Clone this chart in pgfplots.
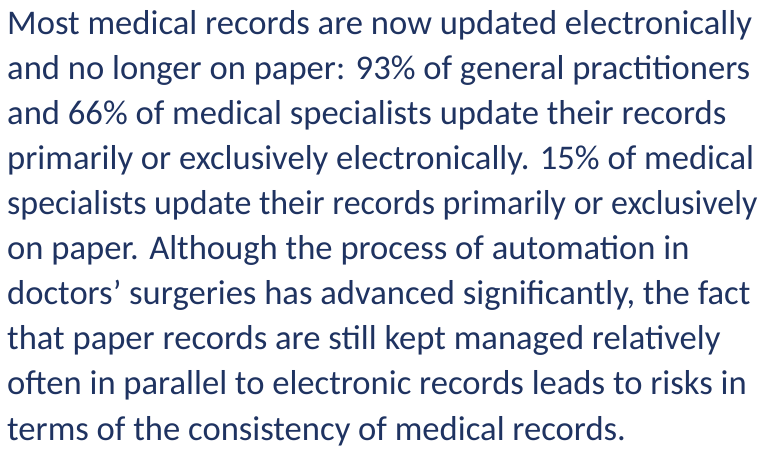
\documentclass[border=0pt]{standalone}
\usepackage{pgfplots}
\pgfplotsset{compat=1.18}
\usepackage{fontspec}
\setmainfont{Carlito}
\definecolor{navy}{HTML}{1F3361}
\tikzset{txt/.style={anchor=base west, inner sep=0pt, text=navy,
      font=\fontsize{34.6bp}{45bp}\selectfont}}
\begin{document}
\begin{tikzpicture}
\begin{axis}[
  scale only axis, width=763bp, height=449bp,
  xmin=0, xmax=763, ymin=0, ymax=449,
  hide axis, clip=false,
]
\addplot[draw=none, forget plot] coordinates {(0,0) (763,449)};
\node[txt] at (axis cs:7,414) {Most medical records are now updated electronically};
\node[txt] at (axis cs:7,369) {and no longer on paper: 93\% of general practitioners};
\node[txt] at (axis cs:7,324) {and 66\% of medical specialists update their records};
\node[txt] at (axis cs:7,279) {primarily or exclusively electronically. 15\% of medical};
\node[txt, xscale=0.98] at (axis cs:7,234) {specialists update their records primarily or exclusively};
\node[txt] at (axis cs:7,189) {on paper. Although the process of automation in};
\node[txt] at (axis cs:7,144) {doctors’ surgeries has advanced significantly, the fact};
\node[txt] at (axis cs:7,99) {that paper records are still kept managed relatively};
\node[txt] at (axis cs:7,54) {often in parallel to electronic records leads to risks in};
\node[txt] at (axis cs:7,9) {terms of the consistency of medical records.};
\end{axis}
\pgfresetboundingbox
\useasboundingbox (0,0) rectangle (763bp,449bp);
\end{tikzpicture}
\end{document}
